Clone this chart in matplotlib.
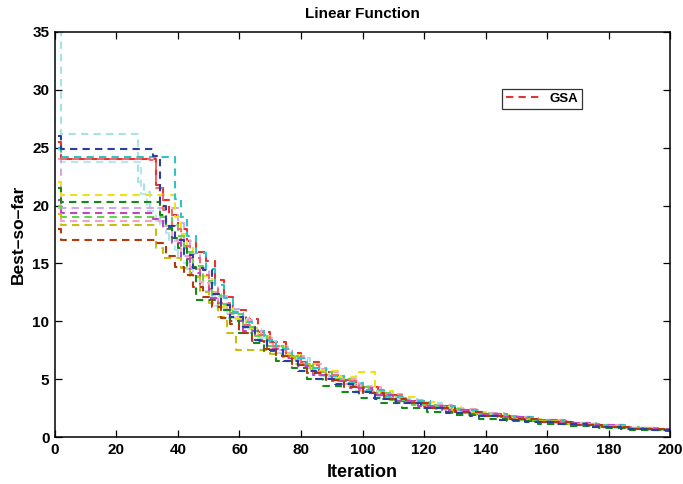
import matplotlib
matplotlib.use('Agg')
import matplotlib.pyplot as plt

plt.rcParams['font.family'] = ['Liberation Sans', 'DejaVu Sans']
plt.rcParams['font.weight'] = 'bold'

# best-so-far curves of the GSA runs, stored as (iteration, value) step breakpoints
red_x = [1, 2, 33, 35, 37, 40, 43, 46, 49, 52, 55, 58, 62, 66, 70, 75, 80, 86, 92, 98, 105, 112, 120, 128, 136, 145, 155, 165, 175, 185, 195, 200]
red_y = [25.5, 24.0, 21.8, 20.5, 19.2, 18.0, 16.9, 16.0, 15.2, 13.6, 12.1, 11.0, 10.2, 9.1, 8.2, 7.3, 6.5, 5.6, 4.9, 4.3, 3.6, 3.1, 2.7, 2.3, 2.0, 1.7, 1.4, 1.15, 0.95, 0.75, 0.62, 0.6]

blue_x = [1, 2, 32, 34, 36, 39, 42, 45, 48, 51, 54, 57, 61, 65, 69, 74, 79, 85, 91, 97, 104, 111, 119, 127, 135, 144, 153, 163, 173, 184, 194, 200]
blue_y = [26.0, 24.9, 24.3, 20.0, 18.2, 17.0, 15.7, 14.6, 14.4, 12.4, 11.4, 10.4, 9.5, 8.4, 7.5, 6.6, 5.7, 5.0, 4.6, 3.9, 3.3, 2.9, 2.5, 2.1, 1.8, 1.5, 1.3, 1.1, 0.9, 0.7, 0.6, 0.6]

cyan_x = [1, 2, 39, 41, 43, 46, 49, 52, 55, 58, 61, 64, 68, 72, 77, 82, 88, 94, 100, 107, 114, 122, 130, 138, 147, 156, 166, 176, 186, 196, 200]
cyan_y = [25.0, 24.2, 20.6, 19.0, 17.4, 15.9, 14.5, 13.1, 12.0, 10.8, 9.9, 9.2, 8.4, 7.6, 6.8, 6.0, 5.3, 4.7, 4.1, 3.5, 3.1, 2.7, 2.3, 2.0, 1.7, 1.45, 1.2, 1.0, 0.8, 0.65, 0.65]

lcyan_x = [1, 2, 27, 29, 31, 34, 37, 40, 43, 47, 51, 55, 59, 63, 67, 72, 77, 83, 89, 96, 103, 110, 118, 126, 134, 143, 152, 162, 172, 182, 192, 200]
lcyan_y = [35.0, 26.2, 22.0, 21.2, 19.8, 18.2, 16.9, 15.6, 14.5, 13.3, 12.1, 11.0, 10.2, 9.3, 8.3, 7.3, 6.8, 5.9, 5.1, 4.4, 3.8, 3.3, 2.9, 2.5, 2.1, 1.8, 1.5, 1.25, 1.0, 0.8, 0.65, 0.65]

salmon_x = [1, 2, 31, 33, 35, 38, 41, 44, 47, 50, 53, 57, 61, 65, 70, 75, 80, 86, 92, 99, 106, 113, 121, 129, 138, 147, 157, 167, 177, 187, 197, 200]
salmon_y = [25.0, 24.0, 23.9, 21.5, 19.6, 18.0, 16.5, 15.5, 14.0, 12.8, 11.6, 10.7, 9.7, 8.8, 7.9, 7.0, 6.2, 5.4, 4.8, 4.1, 3.6, 3.1, 2.7, 2.3, 1.95, 1.65, 1.35, 1.1, 0.9, 0.72, 0.6, 0.6]

lblue_x = [1, 2, 28, 30, 33, 36, 39, 42, 45, 48, 52, 56, 60, 64, 69, 74, 79, 85, 91, 98, 105, 112, 120, 128, 137, 146, 156, 166, 176, 186, 196, 200]
lblue_y = [24.8, 23.8, 21.0, 19.5, 18.5, 17.6, 16.2, 15.0, 13.9, 12.6, 11.3, 10.3, 9.4, 8.6, 7.7, 6.9, 6.0, 5.3, 4.6, 4.0, 3.5, 3.0, 2.6, 2.2, 1.9, 1.6, 1.35, 1.1, 0.9, 0.72, 0.6, 0.6]

yellow_x = [1, 2, 39, 41, 43, 45, 48, 51, 54, 58, 62, 66, 70, 75, 80, 86, 92, 98, 104, 110, 117, 124, 132, 140, 149, 158, 167, 176, 185, 194, 200]
yellow_y = [22.0, 20.9, 19.0, 17.5, 16.5, 14.8, 13.9, 12.4, 11.2, 10.3, 9.4, 8.7, 7.9, 7.1, 6.3, 5.7, 5.2, 5.6, 4.0, 3.5, 3.0, 2.6, 2.2, 1.9, 1.6, 1.35, 1.15, 0.95, 0.78, 0.65, 0.65]

green_x = [1, 2, 34, 36, 38, 40, 43, 46, 54, 57, 60, 64, 68, 72, 77, 82, 87, 93, 99, 106, 113, 121, 129, 138, 147, 157, 167, 177, 187, 197, 200]
green_y = [21.5, 20.3, 19.2, 18.1, 17.2, 16.3, 14.7, 11.8, 11.0, 10.0, 9.0, 8.1, 7.4, 6.6, 6.0, 5.0, 4.4, 3.9, 3.4, 2.9, 2.5, 2.2, 1.9, 1.6, 1.35, 1.12, 0.92, 0.75, 0.62, 0.55, 0.55]

lav_x = [1, 2, 40, 42, 44, 47, 50, 53, 56, 60, 64, 68, 72, 77, 82, 88, 94, 100, 107, 114, 121, 129, 137, 146, 155, 165, 175, 185, 195, 200]
lav_y = [24.0, 19.8, 18.5, 17.0, 15.8, 14.6, 13.3, 12.2, 11.1, 10.1, 9.2, 8.3, 7.5, 6.7, 6.0, 5.3, 4.6, 4.0, 3.5, 3.0, 2.6, 2.3, 2.0, 1.7, 1.45, 1.2, 1.0, 0.82, 0.68, 0.68]

mag_x = [1, 2, 32, 35, 38, 41, 44, 47, 50, 53, 57, 61, 65, 69, 74, 79, 84, 90, 96, 103, 110, 118, 126, 135, 144, 154, 164, 174, 184, 194, 200]
mag_y = [20.5, 19.4, 18.8, 18.0, 16.8, 15.4, 14.2, 13.0, 12.0, 11.0, 10.0, 9.2, 8.4, 7.6, 6.8, 6.1, 5.4, 4.8, 4.2, 3.6, 3.1, 2.7, 2.35, 2.0, 1.7, 1.45, 1.2, 1.0, 0.82, 0.66, 0.66]

lgreen_x = [1, 2, 38, 40, 42, 45, 48, 51, 54, 57, 61, 65, 69, 74, 79, 84, 90, 96, 102, 109, 116, 124, 132, 141, 150, 160, 170, 180, 190, 200]
lgreen_y = [20.0, 19.0, 18.3, 17.4, 16.0, 14.8, 13.5, 12.3, 11.5, 10.6, 9.5, 8.7, 7.9, 7.0, 6.3, 5.6, 5.0, 4.3, 3.8, 3.2, 2.8, 2.4, 2.1, 1.8, 1.5, 1.27, 1.05, 0.85, 0.68, 0.68]

pink_x = [1, 2, 36, 38, 41, 44, 47, 50, 53, 56, 59, 63, 67, 71, 76, 81, 87, 93, 99, 106, 113, 121, 129, 137, 146, 155, 165, 175, 185, 195, 200]
pink_y = [19.8, 18.7, 18.2, 17.0, 15.6, 14.5, 13.4, 12.5, 11.4, 10.6, 10.4, 9.4, 8.6, 7.8, 7.0, 6.3, 5.6, 5.0, 4.3, 3.7, 3.2, 2.8, 2.4, 2.05, 1.75, 1.5, 1.25, 1.0, 0.82, 0.66, 0.66]

olive_x = [1, 2, 33, 35, 41, 44, 47, 50, 53, 56, 59, 70, 74, 78, 83, 88, 94, 100, 107, 114, 121, 129, 137, 146, 155, 165, 175, 185, 195, 200]
olive_y = [19.3, 18.3, 16.3, 15.5, 14.6, 13.8, 12.5, 11.6, 10.4, 9.0, 7.5, 7.2, 6.9, 6.3, 5.6, 5.0, 4.4, 3.9, 3.4, 2.9, 2.5, 2.15, 1.85, 1.6, 1.35, 1.12, 0.92, 0.74, 0.6, 0.6]

brown_x = [1, 2, 33, 36, 39, 42, 45, 48, 51, 54, 57, 60, 64, 68, 72, 77, 82, 88, 94, 100, 107, 114, 122, 130, 139, 148, 158, 168, 178, 188, 198, 200]
brown_y = [18.0, 17.0, 16.8, 15.6, 14.7, 14.0, 13.0, 12.1, 11.2, 10.3, 9.8, 9.0, 8.3, 7.6, 7.0, 6.2, 5.5, 4.9, 4.3, 3.8, 3.3, 2.9, 2.5, 2.15, 1.85, 1.55, 1.3, 1.05, 0.85, 0.68, 0.56, 0.56]

runs = [
    (lcyan_x, lcyan_y, '#a6e3e3'),
    (lblue_x, lblue_y, '#b5e6f2'),
    (lav_x, lav_y, '#d3a6e6'),
    (pink_x, pink_y, '#f2a2c8'),
    (yellow_x, yellow_y, '#ede21c'),
    (lgreen_x, lgreen_y, '#66d24e'),
    (salmon_x, salmon_y, '#f06a6a'),
    (cyan_x, cyan_y, '#2fc3c3'),
    (mag_x, mag_y, '#c046c0'),
    (olive_x, olive_y, '#c9bd12'),
    (green_x, green_y, '#148a14'),
    (brown_x, brown_y, '#b2380e'),
    (blue_x, blue_y, '#2b3f9e'),
]

fig = plt.figure(figsize=(6.83, 4.84), dpi=100)
ax = fig.add_axes([0.0805, 0.097, 0.9005, 0.837])

dash = (3.5, 2.5)
gsa, = ax.plot(red_x, red_y, '--', color='#e3342f', lw=1.5, dashes=dash,
               drawstyle='steps-post', label='GSA')
for x, y, c in runs:
    ax.plot(x, y, '--', color=c, lw=1.5, dashes=dash, drawstyle='steps-post')

ax.set_xlim(0, 200)
ax.set_ylim(0, 35)
ax.set_xticks(range(0, 201, 20))
ax.set_yticks(range(0, 36, 5))
ax.tick_params(direction='in', top=True, right=True, length=5, labelsize=11, width=0.9, pad=4)
for s in ax.spines.values():
    s.set_linewidth(1.1)
for lbl in ax.get_xticklabels() + ax.get_yticklabels():
    lbl.set_fontweight('bold')
ax.set_xlabel('Iteration', fontsize=13, fontweight='bold', labelpad=5)
ax.set_ylabel('Best\u2013so\u2013far', fontsize=12.5, fontweight='bold', labelpad=5)
ax.set_title('Linear Function', fontsize=11, fontweight='bold', pad=10)

leg = ax.legend(handles=[gsa], loc='upper left', bbox_to_anchor=(0.727, 0.86),
                fancybox=False, edgecolor='black', fontsize=9.5, handlelength=2.7,
                borderpad=0.3, handletextpad=0.6, borderaxespad=0)
leg.get_frame().set_linewidth(0.9)

fig.savefig('out.png', dpi=100)
